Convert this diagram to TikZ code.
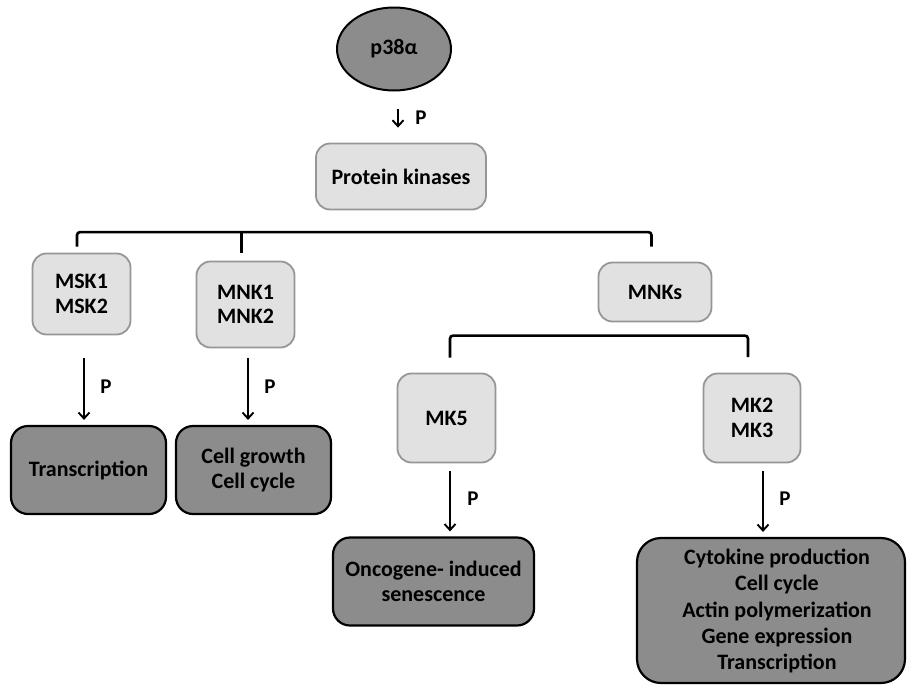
\documentclass[tikz,border=0pt]{standalone}
\usepackage{fontspec}
\setmainfont{Carlito}
\usetikzlibrary{arrows.meta,calc,shapes.geometric}
\definecolor{lightfill}{HTML}{E1E1E1}
\definecolor{lightline}{HTML}{969696}
\definecolor{darkfill}{HTML}{8C8C8C}
\begin{document}
\begin{tikzpicture}[x=1pt,y=-1pt,
  every node/.style={font=\fontsize{22}{24.5}\selectfont\bfseries, align=center, inner sep=0pt},
  lightbox/.style={draw=lightline, fill=lightfill, line width=1.8pt, rounded corners=14pt},
  darkbox/.style={draw=black, fill=darkfill, line width=2.2pt, rounded corners=17pt},
  oval/.style={draw=black, fill=darkfill, line width=2pt, ellipse},
  arr/.style={draw=black, line width=1.9pt, -{Straight Barb[length=6pt,width=11pt,line width=1.9pt]}},
  brk/.style={draw=black, line width=2.6pt, rounded corners=3pt},
  plab/.style={font=\fontsize{21}{24}\selectfont\bfseries}
]
\useasboundingbox (0,0) rectangle (908,686);

% nodes
\node[oval, minimum width=114pt, minimum height=83pt] (p38) at (394,49) {p38α};
\node[lightbox, minimum width=170pt, minimum height=66pt] (pk) at (401,176.5) {Protein kinases};
\node[lightbox, minimum width=98pt, minimum height=81pt] (msk) at (81.5,294) {MSK1\\MSK2};
\node[lightbox, minimum width=98pt, minimum height=86pt] (mnk12) at (245.5,304.5) {MNK1\\MNK2};
\node[lightbox, minimum width=113pt, minimum height=59pt] (mnks) at (655,292) {MNKs};
\node[lightbox, minimum width=98pt, minimum height=89pt] (mk5) at (446.5,418) {MK5};
\node[lightbox, minimum width=97pt, minimum height=89pt] (mk23) at (752,418) {MK2\\MK3};
\node[darkbox, minimum width=155pt, minimum height=88pt] (tr) at (88.5,470) {Transcription};
\node[darkbox, minimum width=155pt, minimum height=88pt] (cg) at (253.5,470) {Cell growth\\Cell cycle};
\node[darkbox, minimum width=201pt, minimum height=88pt] (onc) at (433.5,581.5) {Oncogene- induced\\senescence};
\node[darkbox, rounded corners=24pt, minimum width=268pt, minimum height=145pt] (cyt) at (771,610.5) {};
\node[font=\fontsize{22}{26.2}\selectfont\bfseries] (cyttext) at (777,611) {Cytokine production\\Cell cycle\\Actin polymerization\\Gene expression\\Transcription};

% arrows
\draw[arr] ($(p38.south)+(4,17)$) -- ($(pk.north)+(-3,-15)$)
  node[plab, midway, xshift=23pt] (p0) {P};
\draw[arr] ($(msk.south)+(2.5,23)$) -- ($(tr.north)+(-4.5,-5)$)
  node[plab, midway, xshift=22pt, yshift=2pt] (p1) {P};
\draw[arr] ($(mnk12.south)+(2.5,10)$) -- ($(cg.north)+(-5.5,-5)$)
  node[plab, midway, xshift=22pt, yshift=2pt] (p2) {P};
\draw[arr] ($(mk5.south)+(3.5,8)$) -- ($(onc.north)+(16.5,-5)$)
  node[plab, midway, xshift=23pt, yshift=3pt] (p3) {P};
\draw[arr] ($(mk23.south)+(11,8)$) -- ($(cyt.north)+(-8,-5)$)
  node[plab, midway, xshift=22pt, yshift=3pt] (p4) {P};

% brackets
\draw[brk] ($(msk.north)+(-4.5,-6)$) -- ++(0,-14.5) -| ($(mnks.north)+(-3.5,-15)$);
\draw[brk] ($(mnk12.north)+(-3.8,-8)$) -- ++(0,-20.5);
\draw[brk] ($(mk5.north)+(3.5,-15)$) |- ($(mk23.north)+(-4,-37)$) -- ++(0,21.5);
\end{tikzpicture}
\end{document}
